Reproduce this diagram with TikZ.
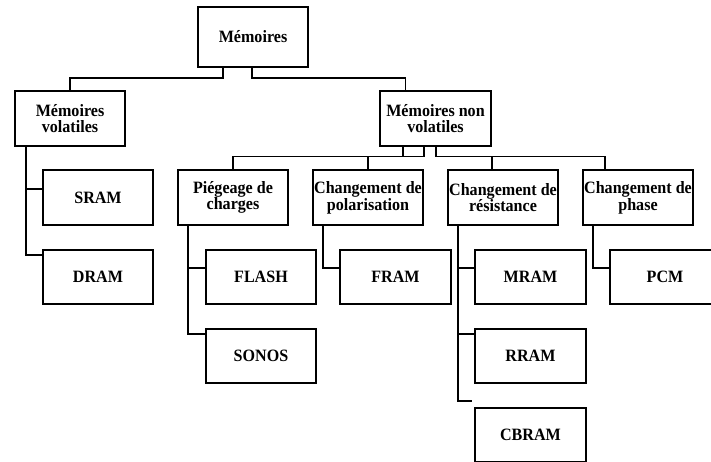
\documentclass[tikz,border=0pt]{standalone}
\usepackage{fontspec}
\setmainfont{Liberation Serif}[FakeStretch=0.93]
\begin{document}
\begin{tikzpicture}[x=1pt,y=-1pt,
  box/.style={draw=black,line width=2.3pt,fill=white,minimum width=110pt,minimum height=55pt,
    inner sep=0pt,align=center,font=\fontsize{17.3}{16.7}\selectfont\bfseries},
  conn/.style={draw=black,line width=1.7pt}]
\clip (0,0) rectangle (711,462);
\fill[white] (0,0) rectangle (711,462);
% nodes
\node[box,minimum height=60pt] (mem) at (253,37) {Mémoires};
\node[box] (vol) at (70,118.5) {Mémoires\\volatiles};
\node[box,minimum width=111pt] (nvol) at (435.5,118.5) {Mémoires non\\volatiles};
\node[box] (sram) at (98,197.5) {SRAM};
\node[box,minimum height=54pt] (dram) at (98,277) {DRAM};
\node[box] (pieg) at (233,197.5) {Piégeage de\\charges};
\node[box] (pola) at (368,197.5) {Changement de\\polarisation};
\node[box] (resi) at (503,197.5) {Changement de\\résistance};
\node[box] (phase) at (638,197.5) {Changement de\\phase};
\node[box,minimum height=54pt] (flash) at (261,277) {FLASH};
\node[box,minimum height=54pt] (sonos) at (261,356) {SONOS};
\node[box,minimum width=111pt,minimum height=54pt] (fram) at (395.5,277) {FRAM};
\node[box,minimum width=111pt,minimum height=54pt] (mram) at (530.5,277) {MRAM};
\node[box,minimum width=111pt,minimum height=54pt] (rram) at (530.5,356) {RRAM};
\node[box,minimum width=111pt,minimum height=54pt] (cbram) at (530.5,435) {CBRAM};
\node[box,minimum height=54pt] (pcm) at (665,277) {PCM};
% connectors
\draw[conn] ([xshift=-30pt]mem.south) -- ++(0,10) -| (vol.north);
\draw[conn] ([xshift=-1pt]mem.south) -- ++(0,10) -| ([xshift=-30pt]nvol.north);
\draw[conn] ([xshift=-44pt]vol.south) |- ([yshift=8.5pt]sram.west);
\draw[conn] ([xshift=-44pt]vol.south) |- ([yshift=22pt]dram.west);
\draw[conn] ([xshift=-32.5pt]nvol.south) -- ++(0,9.5);
\draw[conn] ([xshift=-11.5pt]nvol.south) -- ++(0,9.5) -| (pieg.north);
\draw[conn] ([xshift=-11.5pt]nvol.south) ++(0,9.5) -| (pola.north);
\draw[conn] ([xshift=0.5pt]nvol.south) -- ++(0,9.5) -| ([xshift=-11pt]resi.north);
\draw[conn] ([xshift=0.5pt]nvol.south) ++(0,9.5) -| ([xshift=-33pt]phase.north);
\draw[conn] ([xshift=-45pt]pieg.south) |- ([yshift=9pt]flash.west);
\draw[conn] ([xshift=-45pt]pieg.south) |- ([yshift=22pt]sonos.west);
\draw[conn] ([xshift=-45pt]pola.south) |- ([yshift=9pt]fram.west);
\draw[conn] ([xshift=-45pt]resi.south) |- ([yshift=9pt]mram.west);
\draw[conn] ([xshift=-45pt]resi.south) |- ([yshift=22pt]rram.west);
\draw[conn] ([xshift=-45pt]resi.south) |- ([yshift=34pt,xshift=-2pt]cbram.west);
\draw[conn] ([xshift=-45pt]phase.south) |- ([yshift=9pt]pcm.west);
\end{tikzpicture}
\end{document}
